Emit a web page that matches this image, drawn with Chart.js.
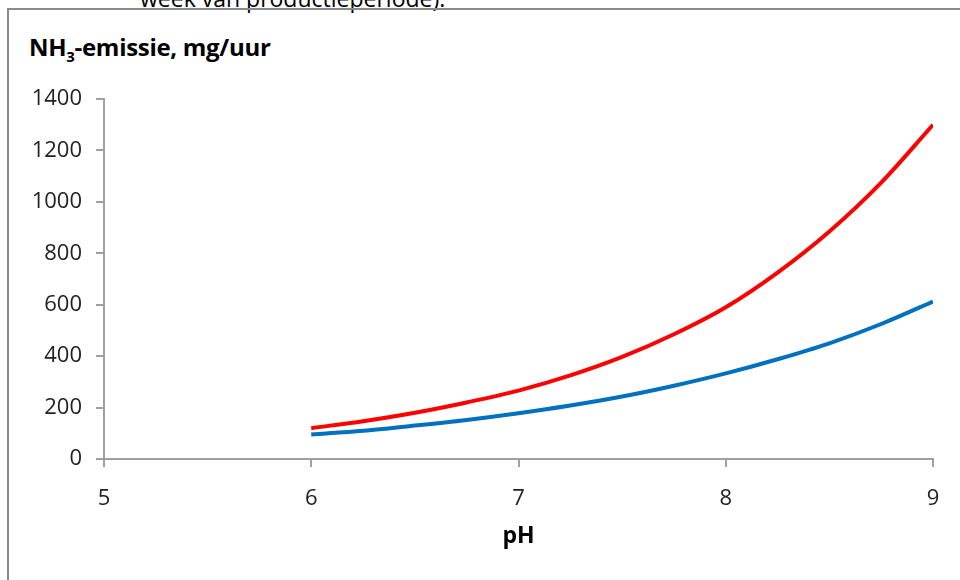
<!DOCTYPE html>
<html>
<head>
<meta charset="utf-8">
<script src="https://cdn.jsdelivr.net/npm/chart.js@4"></script>
<style>
  html, body { margin: 0; padding: 0; background: #fff; overflow: hidden; }
  #wrap { position: relative; width: 960px; height: 580px; font-family: "Open Sans", sans-serif; }
  #frame { position: absolute; left: 7px; top: 8px; width: 960px; height: 580px;
           border-left: 2px solid #8a8a8a; border-top: 2px solid #8a8a8a; }
  #cut { position: absolute; left: 140px; top: -18px; font-size: 23px; color: #000; white-space: nowrap; }
  #ytitle { position: absolute; left: 29px; top: 30px; font-size: 24px; font-weight: bold; color: #000; white-space: nowrap; letter-spacing: -0.3px; }
  #ytitle sub { font-size: 15px; vertical-align: -6px; }
  canvas { position: absolute; left: 0; top: 0; }
</style>
</head>
<body>
<div id="wrap">
  <div id="cut">week van productieperiode).</div>
  <div id="frame"></div>
  <div id="ytitle">NH<sub>3</sub>-emissie, mg/uur</div>
  <canvas id="c" width="960" height="580"></canvas>
</div>
<script>
const phValues   = [6, 6.25, 6.5, 6.75, 7, 7.25, 7.5, 7.75, 8, 8.25, 8.5, 8.75, 9];
const redSeries  = [120, 147, 180, 220, 266, 325, 397, 485, 590, 725, 885, 1075, 1300];
const blueSeries = [95, 110, 130, 152, 178, 208, 243, 285, 333, 388, 450, 525, 612];
const xTicks = [5, 6, 7, 8, 9];
const yTicks = [0, 200, 400, 600, 800, 1000, 1200, 1400];
const xTitle = 'pH';

const toPts = arr => phValues.map((x, i) => ({ x: x, y: arr[i] }));

new Chart(document.getElementById('c'), {
  type: 'line',
  data: {
    datasets: [
      { label: 'rood', data: toPts(redSeries), borderColor: '#FF0000', borderWidth: 4,
        pointRadius: 0, tension: 0.4, cubicInterpolationMode: 'monotone', fill: false },
      { label: 'blauw', data: toPts(blueSeries), borderColor: '#0070C0', borderWidth: 4,
        pointRadius: 0, tension: 0.4, cubicInterpolationMode: 'monotone', fill: false }
    ]
  },
  options: {
    responsive: false,
    animation: false,
    devicePixelRatio: 1,
    layout: { padding: { top: 99, right: 27, bottom: 26, left: 0 } },
    plugins: { legend: { display: false }, tooltip: { enabled: false } },
    scales: {
      x: {
        type: 'linear', min: 5, max: 9,
        afterBuildTicks: s => { s.ticks = xTicks.map(v => ({ value: v })); },
        afterFit: s => { s.height = 95; },
        border: { display: true, color: '#a0a0a0', width: 2 },
        grid: { display: true, drawOnChartArea: false, drawTicks: true, tickLength: 8, color: '#a0a0a0', lineWidth: 2 },
        ticks: { color: '#222', font: { family: 'Open Sans', size: 22 }, padding: 19, callback: v => String(v) },
        title: { display: true, text: xTitle, color: '#000', font: { family: 'Open Sans', size: 23, weight: 'bold' }, padding: { top: 4 } }
      },
      y: {
        type: 'linear', min: 0, max: 1400,
        afterBuildTicks: s => { s.ticks = yTicks.map(v => ({ value: v })); },
        afterFit: s => { s.width = 104; },
        border: { display: true, color: '#a0a0a0', width: 2 },
        grid: { display: true, drawOnChartArea: false, drawTicks: true, tickLength: 8, color: '#a0a0a0', lineWidth: 2 },
        ticks: { color: '#222', font: { family: 'Open Sans', size: 22 }, padding: 14, callback: v => String(v) }
      }
    }
  }
});
</script>
</body>
</html>
